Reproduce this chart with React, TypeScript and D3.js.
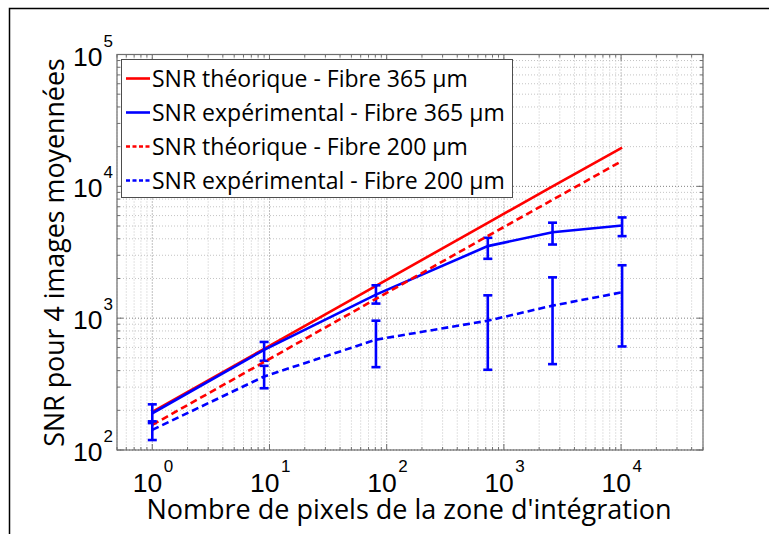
import React from "react";
import * as d3 from "d3";

// pixel counts of the integration zone (1x1, 3x3, 9x9, 27x27, 51x51, 101x101)
const pixelCounts = [1, 9, 81, 729, 2601, 10201];

const snrTheo365 = [195, 585, 1760, 5280, 10000, 19700];
const snrTheo200 = [155, 465, 1400, 4200, 7900, 15600];

const snrExp365 = [190, 575, 1510, 3520, 4490, 5050];
const errLow365 = [160, 475, 1290, 2820, 3620, 4190];
const errHigh365 = [222, 660, 1775, 4070, 5300, 5810];

const snrExp200 = [142, 361, 687, 957, 1245, 1572];
const errLow200 = [119, 294, 425, 406, 448, 610];
const errHigh200 = [165, 435, 957, 1490, 2040, 2520];

const xTickExponents = [0, 1, 2, 3, 4];
const yTickExponents = [2, 3, 4, 5];

const legendLabels = [
    "SNR théorique - Fibre 365 µm",
    "SNR expérimental - Fibre 365 µm",
    "SNR théorique - Fibre 200 µm",
    "SNR expérimental - Fibre 200 µm",
];

const xLabel = "Nombre de pixels de la zone d'intégration";
const yLabel = "SNR pour 4 images moyennées";

interface Series {
    values: number[];
    color: string;
    dash: string;
    low?: number[];
    high?: number[];
}

const series: Series[] = [
    { values: snrTheo365, color: "#ff0000", dash: "" },
    { values: snrExp365, color: "#0000ff", dash: "", low: errLow365, high: errHigh365 },
    { values: snrTheo200, color: "#ff0000", dash: "7,4" },
    { values: snrExp200, color: "#0000ff", dash: "7,4", low: errLow200, high: errHigh200 },
];

const W = 769;
const H = 534;
const box = { left: 117, right: 703, top: 54.5, bottom: 450 };

const App = () => {
    const svgRef = React.useRef<SVGSVGElement>(null);

    React.useEffect(() => {
        const x = d3.scaleLog().domain([0.5, 5e4]).range([box.left, box.right]);
        const y = d3.scaleLog().domain([100, 1e5]).range([box.bottom, box.top]);

        const svg = d3.select(svgRef.current);
        svg.selectAll("*").remove();

        svg.append("rect").attr("width", W).attr("height", H).attr("fill", "white");
        // outer frame (only top and left edges are visible)
        svg.append("path")
            .attr("d", `M9.5,${H} V8.5 H${W}`)
            .attr("fill", "none")
            .attr("stroke", "black")
            .attr("stroke-width", 1.5);

        // grid values
        const xMinor: number[] = [];
        const xMajor: number[] = [];
        for (let e = -1; e <= 4; e++) {
            for (let m = 1; m <= 9; m++) {
                const v = m * Math.pow(10, e);
                if (v < 0.5 || v > 5e4) continue;
                (m === 1 ? xMajor : xMinor).push(v);
            }
        }
        const yMinor: number[] = [];
        const yMajor: number[] = [];
        for (let e = 2; e <= 5; e++) {
            for (let m = 1; m <= 9; m++) {
                const v = m * Math.pow(10, e);
                if (v > 1e5) continue;
                (m === 1 ? yMajor : yMinor).push(v);
            }
        }
        const grid = svg.append("g");
        grid.selectAll(".xminor").data(xMinor).enter().append("line")
            .attr("x1", (d) => x(d)).attr("x2", (d) => x(d))
            .attr("y1", box.top).attr("y2", box.bottom)
            .attr("stroke", "#c4c4c4").attr("stroke-dasharray", "1,2");
        grid.selectAll(".yminor").data(yMinor).enter().append("line")
            .attr("y1", (d) => y(d)).attr("y2", (d) => y(d))
            .attr("x1", box.left).attr("x2", box.right)
            .attr("stroke", "#c4c4c4").attr("stroke-dasharray", "1,2");
        grid.selectAll(".xmajor").data(xMajor).enter().append("line")
            .attr("x1", (d) => x(d)).attr("x2", (d) => x(d))
            .attr("y1", box.top).attr("y2", box.bottom)
            .attr("stroke", "#808080").attr("stroke-dasharray", "1,2");
        grid.selectAll(".ymajor").data(yMajor).enter().append("line")
            .attr("y1", (d) => y(d)).attr("y2", (d) => y(d))
            .attr("x1", box.left).attr("x2", box.right)
            .attr("stroke", "#808080").attr("stroke-dasharray", "1,2");

        // ticks (inside, on all four sides)
        const ticks = svg.append("g").attr("stroke", "#6e6e6e").attr("stroke-width", 1);
        [...xMajor, ...xMinor].forEach((v) => {
            const len = xMajor.includes(v) ? 6 : 3;
            ticks.append("line").attr("x1", x(v)).attr("x2", x(v)).attr("y1", box.bottom).attr("y2", box.bottom - len);
            ticks.append("line").attr("x1", x(v)).attr("x2", x(v)).attr("y1", box.top).attr("y2", box.top + len);
        });
        [...yMajor, ...yMinor].forEach((v) => {
            const len = yMajor.includes(v) ? 6 : 3;
            ticks.append("line").attr("y1", y(v)).attr("y2", y(v)).attr("x1", box.left).attr("x2", box.left + len);
            ticks.append("line").attr("y1", y(v)).attr("y2", y(v)).attr("x1", box.right).attr("x2", box.right - len);
        });
        svg.append("rect")
            .attr("x", box.left).attr("y", box.top)
            .attr("width", box.right - box.left).attr("height", box.bottom - box.top)
            .attr("fill", "none").attr("stroke", "#6e6e6e").attr("stroke-width", 1.2);

        // lines and error bars
        const line = d3.line<number>()
            .x((_, i) => x(pixelCounts[i]))
            .y((d) => y(d));
        series.forEach((s) => {
            svg.append("path")
                .attr("d", line(s.values))
                .attr("fill", "none")
                .attr("stroke", s.color)
                .attr("stroke-width", 2.6)
                .attr("stroke-dasharray", s.dash);
            if (s.low && s.high) {
                const eb = svg.append("g").attr("stroke", s.color).attr("stroke-width", 2.6);
                pixelCounts.forEach((p, i) => {
                    const cx = x(p);
                    eb.append("line").attr("x1", cx).attr("x2", cx).attr("y1", y(s.low![i])).attr("y2", y(s.high![i]));
                    eb.append("line").attr("x1", cx - 4.5).attr("x2", cx + 4.5).attr("y1", y(s.low![i])).attr("y2", y(s.low![i]));
                    eb.append("line").attr("x1", cx - 4.5).attr("x2", cx + 4.5).attr("y1", y(s.high![i])).attr("y2", y(s.high![i]));
                });
            }
        });

        // tick labels: "10" with a raised exponent in one text
        const tickFont = "'Liberation Sans', Arial, sans-serif";
        xTickExponents.forEach((e) => {
            const t = svg.append("text")
                .attr("x", x(Math.pow(10, e)) - 19.5)
                .attr("y", box.bottom + 42)
                .attr("font-family", tickFont)
                .attr("fill", "black");
            t.append("tspan").attr("font-size", 26.5).text("10");
            t.append("tspan").attr("font-size", 17).attr("dx", 1.5).attr("dy", -20).text(String(e));
        });
        yTickExponents.forEach((e) => {
            const t = svg.append("text")
                .attr("x", 73)
                .attr("y", y(Math.pow(10, e)) + 11)
                .attr("font-family", tickFont)
                .attr("fill", "black");
            t.append("tspan").attr("font-size", 26.5).text("10");
            t.append("tspan").attr("font-size", 17).attr("dx", 1).attr("dy", -19).text(String(e));
        });

        // axis labels
        const labelFont = "'Open Sans', Lato, sans-serif";
        svg.append("text")
            .attr("x", 409)
            .attr("y", 519)
            .attr("text-anchor", "middle")
            .attr("font-family", labelFont)
            .attr("font-size", 27)
            .attr("fill", "black")
            .text(xLabel);
        svg.append("text")
            .attr("transform", `translate(64,252.5) rotate(-90)`)
            .attr("text-anchor", "middle")
            .attr("font-family", labelFont)
            .attr("font-size", 26.8)
            .attr("fill", "black")
            .text(yLabel);

        // legend
        const legend = svg.append("g");
        legend.append("rect")
            .attr("x", 121.5).attr("y", 59.5)
            .attr("width", 391).attr("height", 138)
            .attr("fill", "white").attr("stroke", "#4d4d4d").attr("stroke-width", 1);
        series.forEach((s, i) => {
            const cy = 78.5 + i * 34;
            legend.append("line")
                .attr("x1", 126).attr("x2", 150)
                .attr("y1", cy).attr("y2", cy)
                .attr("stroke", s.color).attr("stroke-width", 2.6)
                .attr("stroke-dasharray", s.dash ? "4,2.5" : "");
            legend.append("text")
                .attr("x", 152)
                .attr("y", cy + 8)
                .attr("font-family", labelFont)
                .attr("font-size", 23)
                .attr("fill", "black")
                .text(legendLabels[i]);
        });
    }, []);

    return (
        <svg
            ref={svgRef}
            width={W}
            height={H}
            style={{ position: "absolute", left: 0, top: 0, display: "block" }}
        />
    );
};

export default App;
